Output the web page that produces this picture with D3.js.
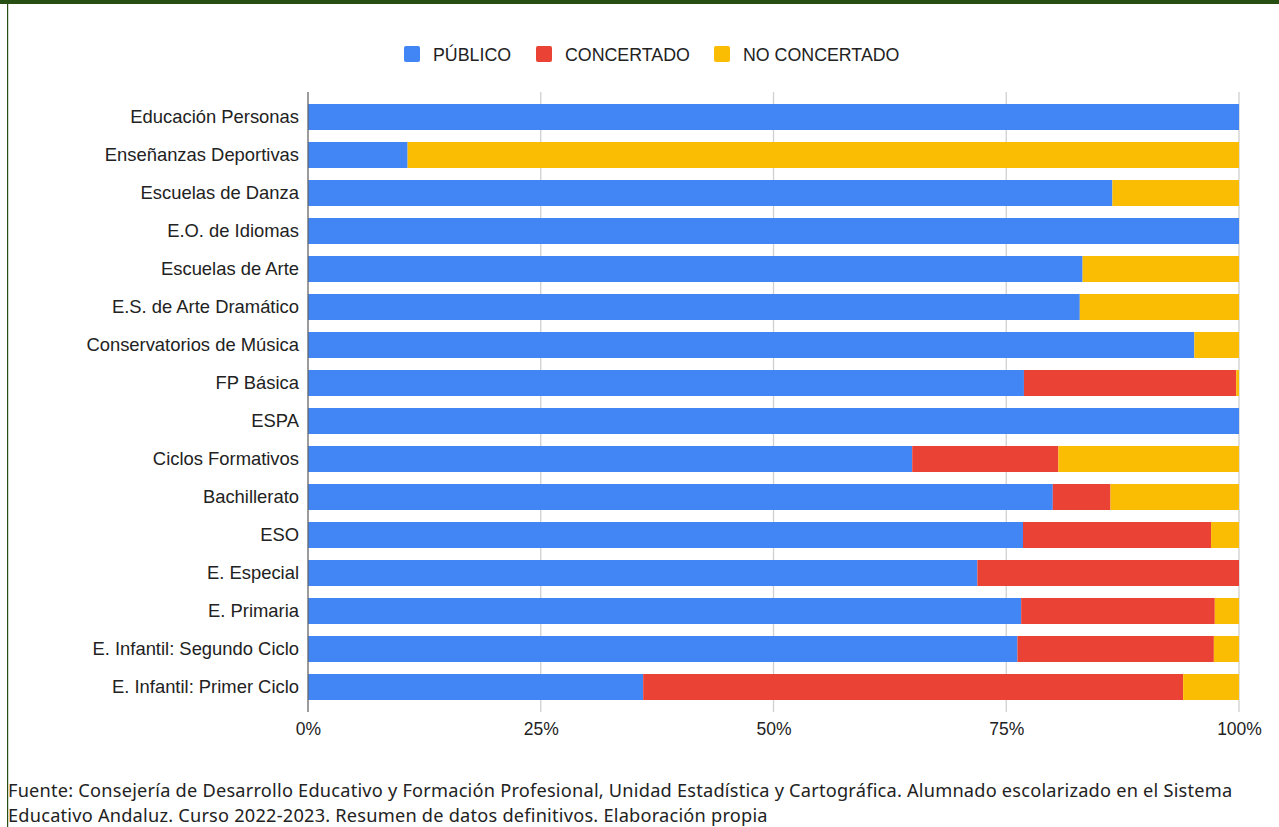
<!DOCTYPE html>
<html lang="es">
<head>
<meta charset="utf-8">
<script src="https://cdn.jsdelivr.net/npm/d3@7"></script>
<style>
  html, body { margin: 0; padding: 0; background: #fff; }
  svg { display: block; }
</style>
</head>
<body>
<svg id="chart" width="1279" height="827"></svg>
<script>
// Enseñanzas y titularidad del centro (% del alumnado)
const categories = [
  "Educación Personas",
  "Enseñanzas Deportivas",
  "Escuelas de Danza",
  "E.O. de Idiomas",
  "Escuelas de Arte",
  "E.S. de Arte Dramático",
  "Conservatorios de Música",
  "FP Básica",
  "ESPA",
  "Ciclos Formativos",
  "Bachillerato",
  "ESO",
  "E. Especial",
  "E. Primaria",
  "E. Infantil: Segundo Ciclo",
  "E. Infantil: Primer Ciclo"
];
const publico      = [100, 10.7, 86.4, 100, 83.2, 82.9, 95.2, 76.9, 100, 64.9, 80.0, 76.8, 71.9, 76.6, 76.2, 36.0];
const concertado   = [0,   0,    0,    0,   0,    0,    0,    22.8, 0,   15.7, 6.2,  20.2, 28.1, 20.8, 21.1, 58.0];
const noConcertado = [0,   89.3, 13.6, 0,   16.8, 17.1, 4.8,  0.3,  0,   19.4, 13.8, 3.0,  0,    2.6,  2.7,  6.0];

const seriesNames = ["PÚBLICO", "CONCERTADO", "NO CONCERTADO"];
const seriesColors = ["#4285F4", "#EA4335", "#FBBC04"];
const tickValues = [0, 25, 50, 75, 100];

const svg = d3.select("#chart");

// page frame: dark green header strip and left rule
svg.append("rect").attr("x", 0).attr("y", 0).attr("width", 1279).attr("height", 4).attr("fill", "#274e13");
svg.append("rect").attr("x", 7).attr("y", 0).attr("width", 1.2).attr("height", 827).attr("fill", "#274e13");

const rows = categories.map((c, i) => ({
  cat: c,
  "PÚBLICO": publico[i],
  "CONCERTADO": concertado[i],
  "NO CONCERTADO": noConcertado[i]
}));
const stacked = d3.stack().keys(seriesNames)(rows);

const x = d3.scaleLinear().domain([0, 100]).range([308, 1239]);
const y = d3.scaleBand().domain(categories).range([98, 706]).paddingInner(0.316).paddingOuter(0.158);

// vertical gridlines
svg.append("g")
  .selectAll("line")
  .data(tickValues.slice(1))
  .join("line")
  .attr("x1", d => x(d)).attr("x2", d => x(d))
  .attr("y1", 92).attr("y2", 712)
  .attr("stroke", "#d0d0d0").attr("stroke-width", 1.3);

// stacked bars
svg.append("g")
  .selectAll("g")
  .data(stacked)
  .join("g")
  .attr("fill", (d, i) => seriesColors[i])
  .selectAll("rect")
  .data(d => d)
  .join("rect")
  .attr("x", d => x(d[0]))
  .attr("y", d => y(d.data.cat))
  .attr("width", d => Math.max(0, x(d[1]) - x(d[0])))
  .attr("height", y.bandwidth());

// baseline
svg.append("line")
  .attr("x1", x(0)).attr("x2", x(0))
  .attr("y1", 92).attr("y2", 712)
  .attr("stroke", "#666").attr("stroke-width", 1.3);

// category axis labels
const yAxis = d3.axisLeft(y).tickSize(0).tickPadding(9);
const yg = svg.append("g").attr("transform", `translate(${x(0)},0)`).call(yAxis);
yg.select(".domain").remove();
yg.selectAll("text")
  .attr("font-family", "'Liberation Sans', Arial, sans-serif")
  .attr("font-size", 18.4)
  .attr("fill", "#222");

// percentage axis labels
const xAxis = d3.axisBottom(x).tickValues(tickValues).tickFormat(d => d + "%").tickSize(0).tickPadding(0);
const xg = svg.append("g").attr("transform", "translate(0,723)").call(xAxis);
xg.select(".domain").remove();
xg.selectAll("text")
  .attr("font-family", "'Liberation Sans', Arial, sans-serif")
  .attr("font-size", 17.5)
  .attr("fill", "#222");

// legend
const legendItems = [
  { name: seriesNames[0], sx: 404 },
  { name: seriesNames[1], sx: 536 },
  { name: seriesNames[2], sx: 714 }
];
const lg = svg.append("g");
legendItems.forEach((d, i) => {
  lg.append("rect")
    .attr("x", d.sx).attr("y", 46).attr("width", 16).attr("height", 16)
    .attr("rx", 2).attr("fill", seriesColors[i]);
  lg.append("text")
    .attr("x", d.sx + 29).attr("y", 60.5)
    .attr("font-family", "'Liberation Sans', Arial, sans-serif")
    .attr("font-size", 17.8)
    .attr("fill", "#222")
    .text(d.name);
});

// source note
const note = svg.append("g")
  .attr("font-family", "'Noto Sans', 'Open Sans', sans-serif")
  .attr("font-size", 18.2)
  .attr("letter-spacing", 0.22)
  .attr("fill", "#222");
note.append("text").attr("x", 8).attr("y", 797)
  .text("Fuente: Consejería de Desarrollo Educativo y Formación Profesional, Unidad Estadística y Cartográfica. Alumnado escolarizado en el Sistema");
note.append("text").attr("x", 8).attr("y", 822)
  .text("Educativo Andaluz. Curso 2022-2023. Resumen de datos definitivos. Elaboración propia");
</script>
</body>
</html>
